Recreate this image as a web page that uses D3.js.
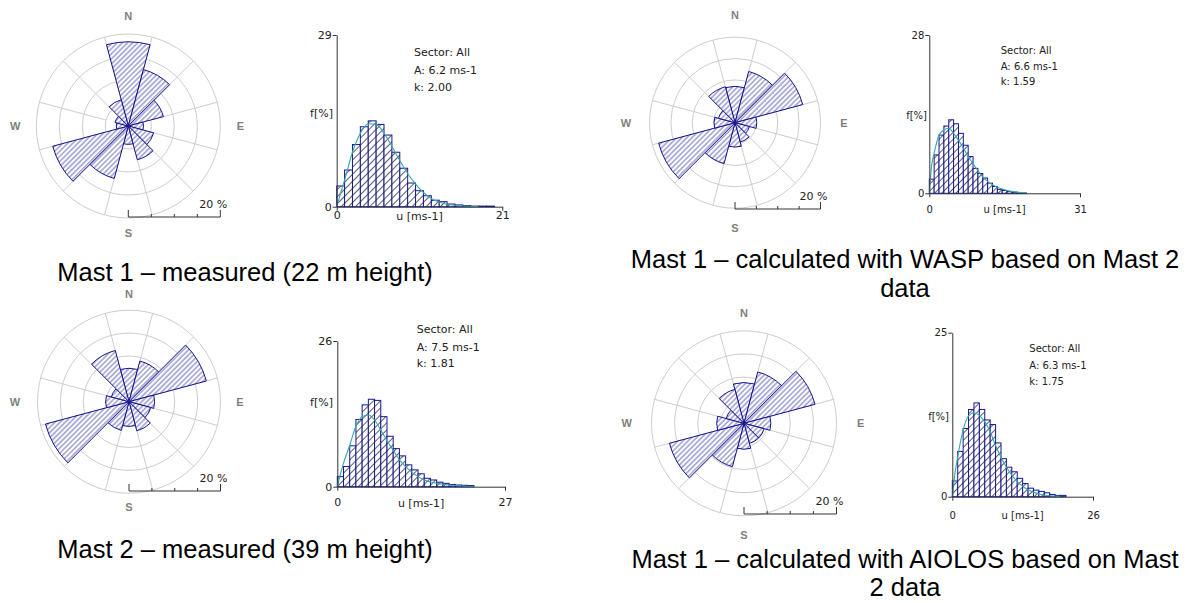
<!DOCTYPE html>
<html>
<head>
<meta charset="utf-8">
<script src="https://cdn.jsdelivr.net/npm/d3@7"></script>
<style>
  body { margin: 0; background: #fff; }
  svg { display: block; }
</style>
</head>
<body>
<div id="chart"></div>
<script>
// sector centres, degrees from north
var sectorAngles = [0, 30, 60, 90, 120, 150, 180, 210, 240, 270, 300, 330];

// sector frequencies [%]
var roseMast1Meas   = [18.3, 12.7, 7.9, 3.3, 5.7, 7.6, 4.0, 11.8, 17.0, 2.6, 3.0, 5.9];
var roseMast1Wasp   = [8.5, 12.4, 16.4, 5.1, 3.5, 4.7, 5.7, 9.9, 18.5, 4.9, 4.0, 8.7];
var roseMast2Meas   = [7.3, 9.2, 17.5, 5.6, 4.9, 6.6, 5.4, 6.5, 18.9, 5.1, 4.0, 11.6];
var roseMast1Aiolos = [8.8, 11.5, 15.9, 5.8, 4.5, 4.5, 5.6, 9.7, 16.7, 5.9, 4.0, 7.6];

// speed histograms, 1 m/s bins [%]
var histMast1Meas   = [3.5, 6.2, 10.5, 13.5, 14.5, 13.9, 12.1, 9.2, 6.5, 4.0, 2.7, 1.85, 1.1, 0.85, 0.45, 0.3, 0.17, 0.1, 0.1, 0.1];
var histMast1Wasp   = [2.5, 6.8, 10.3, 11.9, 13.0, 12.3, 10.6, 8.5, 6.5, 4.4, 3.5, 2.7, 1.8, 1.2, 0.7, 0.5, 0.3, 0.2, 0.1, 0.05];
var histMast2Meas   = [1.8, 3.6, 7.3, 12.0, 14.6, 15.6, 15.4, 12.5, 9.0, 6.8, 5.5, 3.9, 3.0, 2.3, 1.5, 1.2, 0.8, 0.6, 0.4, 0.3, 0.25, 0.2];
var histMast1Aiolos = [2.4, 6.9, 10.4, 13.3, 14.3, 13.3, 11.7, 11.0, 8.2, 5.8, 4.5, 3.8, 2.8, 2.0, 1.3, 1.0, 0.8, 0.6, 0.35, 0.2, 0.2];

// fitted curves
var fitSpeeds     = [0, 0.5, 1, 2, 3, 4, 5, 6, 7, 8, 9, 10, 11, 12, 13, 14, 16, 18, 20, 22];
var fitMast1Meas   = [0, 2.3, 4.5, 9.2, 12.4, 14.0, 13.9, 12.4, 10.2, 7.8, 5.6, 3.8, 2.4, 1.4, 0.8, 0.4, 0.12, 0.03, null, null];
var fitMast1Wasp   = [0, 5.0, 7.1, 10.3, 11.2, 11.5, 10.6, 9.4, 8.0, 6.5, 5.2, 4.0, 2.9, 2.1, 1.5, 1.05, 0.5, 0.2, 0.05, null];
var fitMast2Meas   = [0, 2.2, 4.2, 7.4, 10.8, 12.5, 12.8, 11.9, 10.1, 8.2, 6.5, 4.8, 3.6, 2.6, 1.8, 1.2, 0.6, 0.3, 0.12, 0.03];
var fitMast1Aiolos = [0, 3.6, 6.1, 10.2, 12.3, 12.8, 12.4, 11.4, 9.9, 7.8, 6.0, 4.5, 3.3, 2.3, 1.6, 1.05, 0.4, 0.13, 0.04, null];

var weibullA = ["6.2", "6.6", "7.5", "6.3"];
var weibullK = ["2.00", "1.59", "1.81", "1.75"];
var speedMax = [21, 31, 27, 26];
var freqMax  = [29, 28, 26, 25];
var ringLevels = [5, 10, 15, 20];
var compass = ["N", "E", "S", "W"];

var captions = [
	["Mast 1 \u2013 measured (22 m height)"],
	["Mast 1 \u2013 calculated with WASP based on Mast 2", "data"],
	["Mast 2 \u2013 measured (39 m height)"],
	["Mast 1 \u2013 calculated with AIOLOS based on Mast", "2 data"]
];

// layout of the four panels (pixels)
var panels = [
	{ rose: roseMast1Meas, hist: histMast1Meas, fit: fitMast1Meas,
	  cx: 128.3, cy: 126, R: 92, barY: 217, lab: [110, 112, 107, 113],
	  hx0: 336.7, hx1: 502.3, hy0: 206.7, hyT: 35, fs: 11, xPad: 1,
	  infoX: 414, infoY: [52, 70, 87], fX: 333, fY: 113,
	  capX: 245, capY: [272] },
	{ rose: roseMast1Wasp, hist: histMast1Wasp, fit: fitMast1Wasp,
	  cx: 735, cy: 122.7, R: 85.5, barY: 209, lab: [107.7, 109, 105.3, 109],
	  hx0: 929.3, hx1: 1080, hy0: 193.3, hyT: 35, fs: 10, xPad: 9,
	  infoX: 1000.7, infoY: [50, 66, 81.7], fX: 927, fY: 115,
	  capX: 905, capY: [259.5, 288] },
	{ rose: roseMast2Meas, hist: histMast2Meas, fit: fitMast2Meas,
	  cx: 129, cy: 401.7, R: 91.5, barY: 491, lab: [107.7, 111, 105.3, 114],
	  hx0: 337.3, hx1: 505, hy0: 486.7, hyT: 341, fs: 11, xPad: 8,
	  infoX: 416.7, infoY: [329.3, 346.7, 363.3], fX: 333, fY: 401.7,
	  capX: 245, capY: [549] },
	{ rose: roseMast1Aiolos, hist: histMast1Aiolos, fit: fitMast1Aiolos,
	  cx: 744, cy: 423.3, R: 92.5, barY: 514, lab: [110.6, 116.7, 111.7, 117.3],
	  hx0: 952.3, hx1: 1093, hy0: 496.7, hyT: 332.7, fs: 10, xPad: 11,
	  infoX: 1029.3, infoY: [348.3, 365, 381.7], fX: 949, fY: 416,
	  capX: 905, capY: [559, 587.5] }
];

var svg = d3.select("#chart").append("svg")
	.attr("width", 1204)
	.attr("height", 603);

var defs = svg.append("defs");

function hatch(id, gap, color, w) {
	var pat = defs.append("pattern")
		.attr("id", id)
		.attr("patternUnits", "userSpaceOnUse")
		.attr("width", gap)
		.attr("height", gap)
		.attr("patternTransform", "rotate(45)");
	pat.append("rect").attr("width", gap).attr("height", gap).attr("fill", "#fff");
	pat.append("line")
		.attr("x1", gap / 2).attr("y1", 0)
		.attr("x2", gap / 2).attr("y2", gap)
		.attr("stroke", color)
		.attr("stroke-width", w);
}
hatch("roseHatch", 3.6, "#3a3aa6", 0.75);
hatch("histHatch", 5, "#333", 0.8);

var small = "'DejaVu Sans', Verdana, sans-serif";

function drawRose(p) {
	var g = svg.append("g").attr("transform", "translate(" + p.cx + "," + p.cy + ")");
	var r = d3.scaleLinear().domain([0, 20]).range([0, p.R]);
	var ang = d3.scaleLinear().domain([0, 360]).range([0, 2 * Math.PI]);

	g.selectAll(".ring")
		.data(ringLevels)
		.enter().append("circle")
		.attr("r", function(d) { return r(d); })
		.attr("fill", "none")
		.attr("stroke", "#cdcdcd")
		.attr("stroke-width", 1);

	g.selectAll(".spoke")
		.data(sectorAngles)
		.enter().append("line")
		.attr("x1", function(d) { return d3.pointRadial(ang(d + 15), r(5))[0]; })
		.attr("y1", function(d) { return d3.pointRadial(ang(d + 15), r(5))[1]; })
		.attr("x2", function(d) { return d3.pointRadial(ang(d + 15), r(20))[0]; })
		.attr("y2", function(d) { return d3.pointRadial(ang(d + 15), r(20))[1]; })
		.attr("stroke", "#cdcdcd")
		.attr("stroke-width", 1);

	var arc = d3.arc()
		.innerRadius(0)
		.outerRadius(function(d) { return r(d.v); })
		.startAngle(function(d) { return ang(d.a - 15); })
		.endAngle(function(d) { return ang(d.a + 15); });

	g.selectAll(".sector")
		.data(sectorAngles.map(function(a, i) { return { a: a, v: p.rose[i] }; }))
		.enter().append("path")
		.attr("d", arc)
		.attr("fill", "url(#roseHatch)")
		.attr("stroke", "#14148c")
		.attr("stroke-width", 1);

	// N E S W
	g.selectAll(".compass")
		.data(compass)
		.enter().append("text")
		.attr("x", function(d, i) { return d3.pointRadial(ang(i * 90), p.lab[i])[0]; })
		.attr("y", function(d, i) { return d3.pointRadial(ang(i * 90), p.lab[i])[1]; })
		.attr("dy", "0.35em")
		.attr("text-anchor", "middle")
		.style("font-family", "'Liberation Sans', Arial, sans-serif")
		.style("font-weight", "bold")
		.style("font-size", "11px")
		.style("fill", "#808080")
		.text(function(d) { return d; });

	// scale bar 0..20 %
	var by = p.barY - p.cy;
	g.append("line")
		.attr("x1", r(0)).attr("x2", r(20))
		.attr("y1", by).attr("y2", by)
		.attr("stroke", "#333");
	g.selectAll(".sbtick")
		.data(ringLevels.concat([0]))
		.enter().append("line")
		.attr("x1", function(d) { return r(d); })
		.attr("x2", function(d) { return r(d); })
		.attr("y1", by)
		.attr("y2", function(d) { return by - (d == 0 || d == 20 ? 7 : 3); })
		.attr("stroke", "#333");
	g.append("text")
		.attr("x", r(20) + 7)
		.attr("y", by - 9)
		.attr("text-anchor", "end")
		.style("font-family", small)
		.style("font-size", "11px")
		.style("fill", "#222")
		.text("20 %");
}

function drawHist(p, i) {
	var x = d3.scaleLinear().domain([0, speedMax[i]]).range([p.hx0, p.hx1]);
	var y = d3.scaleLinear().domain([0, freqMax[i]]).range([p.hy0, p.hyT]);
	var g = svg.append("g");

	g.selectAll(".bar")
		.data(p.hist)
		.enter().append("rect")
		.attr("x", function(d, j) { return x(j); })
		.attr("y", function(d) { return y(d); })
		.attr("width", function(d, j) { return x(j + 1) - x(j); })
		.attr("height", function(d) { return y(0) - y(d); })
		.attr("fill", "url(#histHatch)")
		.attr("stroke", "#16169a")
		.attr("stroke-width", 1);

	var line = d3.line()
		.defined(function(d) { return d[1] != null; })
		.x(function(d) { return x(d[0]); })
		.y(function(d) { return y(d[1]); })
		.curve(d3.curveMonotoneX);

	g.append("path")
		.datum(fitSpeeds.map(function(u, j) { return [u, p.fit[j]]; }))
		.attr("d", line)
		.attr("fill", "none")
		.attr("stroke", "#35a8a8")
		.attr("stroke-width", 1.1);

	var yAxis = g.append("g")
		.attr("transform", "translate(" + p.hx0 + ",0)")
		.call(d3.axisLeft(y).tickValues([0, freqMax[i]]).tickSize(4).tickSizeOuter(0).tickPadding(1));
	var xAxis = g.append("g")
		.attr("transform", "translate(0," + p.hy0 + ")")
		.call(d3.axisBottom(x).tickValues([0, speedMax[i]]).tickSize(4).tickSizeOuter(0).tickPadding(p.xPad));

	[yAxis, xAxis].forEach(function(ax) {
		ax.select(".domain").attr("stroke", "#333");
		ax.selectAll(".tick line").attr("stroke", "#333");
		ax.selectAll("text")
			.style("font-family", small)
			.style("font-size", p.fs + "px")
			.style("fill", "#222");
	});

	g.append("text")
		.attr("x", (p.hx0 + p.hx1) / 2)
		.attr("y", p.hy0 + 4 + p.xPad)
		.attr("dy", "0.71em")
		.attr("text-anchor", "middle")
		.style("font-family", small)
		.style("font-size", p.fs + "px")
		.style("fill", "#222")
		.text("u [ms-1]");

	g.append("text")
		.attr("x", p.fX)
		.attr("y", p.fY)
		.attr("dy", "0.35em")
		.attr("text-anchor", "end")
		.style("font-family", small)
		.style("font-size", p.fs + "px")
		.style("fill", "#222")
		.text("f[%]");

	g.selectAll(".info")
		.data(["Sector: All", "A: " + weibullA[i] + " ms-1", "k: " + weibullK[i]])
		.enter().append("text")
		.attr("x", p.infoX)
		.attr("y", function(d, j) { return p.infoY[j]; })
		.attr("dy", "0.35em")
		.style("font-family", small)
		.style("font-size", p.fs + "px")
		.style("fill", "#222")
		.text(function(d) { return d; });
}

panels.forEach(function(p, i) {
	drawRose(p);
	drawHist(p, i);
	svg.selectAll(".cap" + i)
		.data(captions[i])
		.enter().append("text")
		.attr("x", p.capX)
		.attr("y", function(d, j) { return p.capY[j]; })
		.attr("dy", "0.35em")
		.attr("text-anchor", "middle")
		.style("font-family", "'Liberation Sans', Arial, sans-serif")
		.style("font-size", "25.5px")
		.style("fill", "#000")
		.text(function(d) { return d; });
});
</script>
</body>
</html>
